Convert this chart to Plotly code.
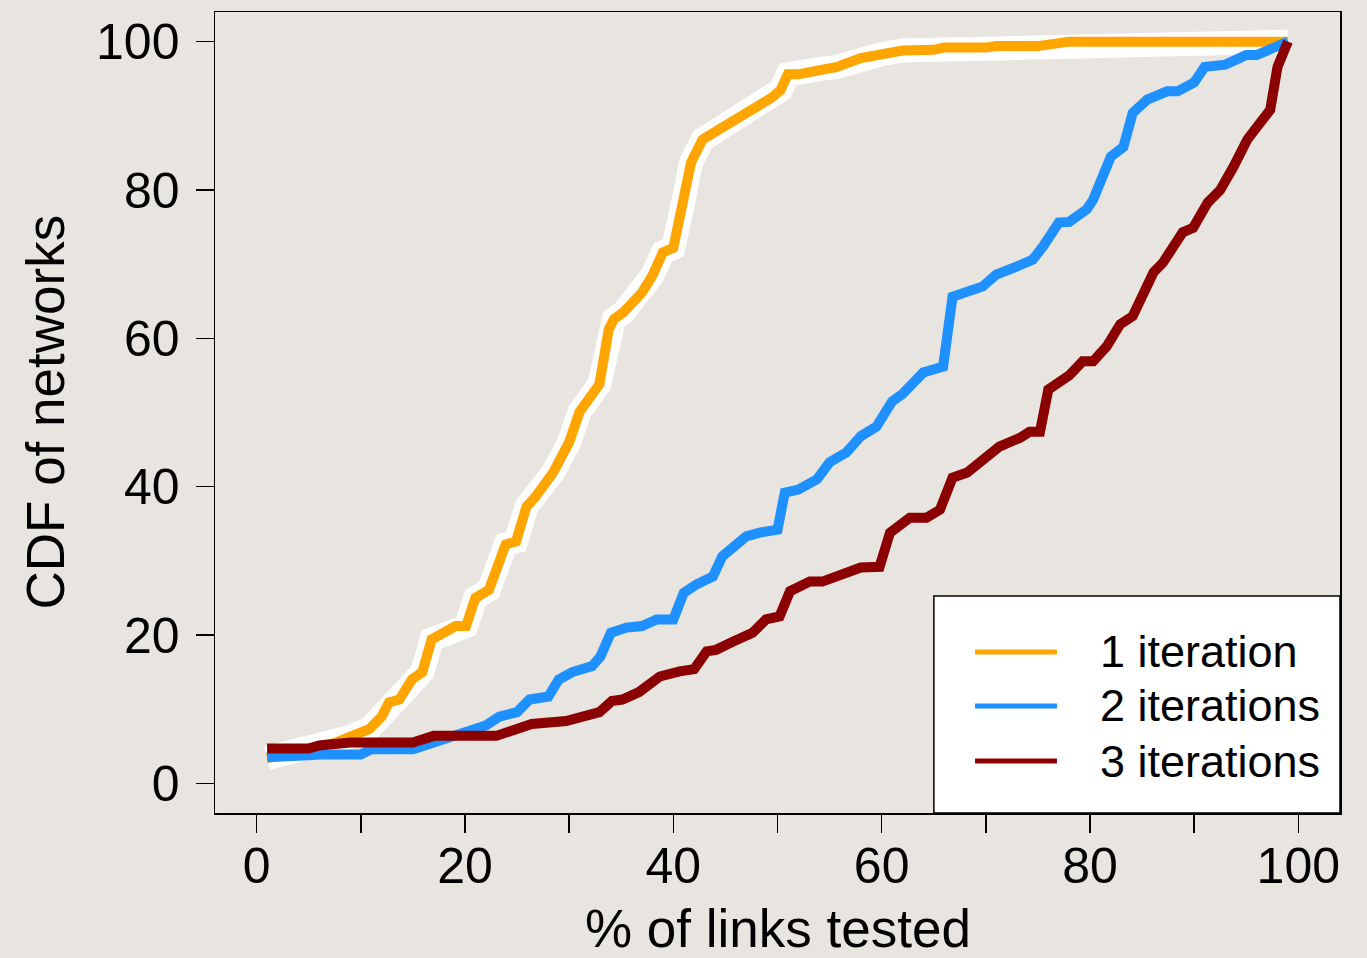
import plotly.graph_objects as go

# ---------------- data ----------------
series_names = ["1 iteration", "2 iterations", "3 iterations"]
series_colors = ["#FFA500", "#1E90FF", "#8B0000"]

x_1iter = [1, 3, 5, 7, 7.6, 8.8, 10.8, 12, 12.7, 13.7, 14.9, 15.9, 16.8, 19.1, 20.1, 21, 22.3,
           23.9, 24.9, 25.9, 26.8, 28.5, 30, 31, 32.9, 33.8, 34.3, 35.2, 37, 38, 39, 40, 41,
           41.7, 42.8, 45.4, 47, 48.5, 49.5, 50.3, 51, 52, 54, 55.7, 58, 60, 62, 65, 66, 70,
           71, 75, 78, 99]
y_1iter = [3.4, 4.0, 4.5, 5.2, 5.5, 6.2, 7.3, 9.0, 10.9, 11.3, 14.0, 15.0, 19.4, 21.2, 21.2,
           25.0, 26.1, 32.2, 32.6, 37.3, 38.7, 42.0, 46.0, 50.1, 53.8, 61.2, 62.6, 63.5, 66.2,
           68.5, 71.6, 72.2, 78.7, 83.7, 86.8, 89.0, 90.2, 91.5, 92.5, 93.5, 95.6, 95.6, 96.3,
           96.6, 97.8, 98.3, 98.8, 98.9, 99.2, 99.2, 99.4, 99.4, 100, 100]

x_2iter = [1, 3, 5, 6, 10, 11, 15, 17, 19, 21, 22, 23.3, 25, 26.2, 28, 29, 30.3, 32.2, 33, 34,
           35.5, 37, 38.4, 40, 41, 42.2, 43.8, 44.7, 47, 48.3, 50, 50.7, 52, 53.8, 55, 56.6,
           58, 59.5, 61, 62, 64, 65.9, 66.8, 69.7, 71, 73, 74.5, 75.5, 77, 78, 79.7, 80.3, 82,
           83.2, 84.1, 85.5, 87.4, 88.4, 90, 91, 93, 95, 96, 99]
y_2iter = [3.5, 3.5, 3.8, 3.9, 3.9, 4.6, 4.6, 5.5, 6.5, 7.3, 7.8, 9.0, 9.6, 11.3, 11.7, 14.0,
           15.0, 15.8, 17.1, 20.3, 21.0, 21.2, 22.1, 22.1, 25.7, 26.8, 27.9, 30.6, 33.3, 33.8,
           34.2, 39.2, 39.6, 41.0, 43.3, 44.6, 46.8, 48.1, 51.5, 52.5, 55.4, 56.2, 65.6, 67.0,
           68.6, 69.7, 70.6, 72.4, 75.6, 75.7, 77.4, 78.7, 84.5, 85.8, 90.4, 92.2, 93.3, 93.3,
           94.5, 96.6, 96.9, 98.2, 98.2, 100]

x_3iter = [1, 5, 6, 8, 9, 15, 17, 23, 24.2, 25.2, 26.4, 29.7, 31.6, 32.9, 34.1, 35.1, 36.7,
           38.7, 40.6, 42, 43.2, 44.1, 45.7, 47.6, 48.9, 50.2, 51.2, 53.1, 54.3, 56.3, 58,
           59.8, 60.8, 62.7, 64.3, 65.6, 66.8, 68.2, 69.4, 71.3, 73.3, 74.2, 75.2, 76, 78,
           79.3, 80.3, 81.6, 82.9, 84.1, 86.1, 87, 88.9, 89.9, 91.3, 92.5, 93.8, 95.1, 96.3,
           97.3, 98, 99]
y_3iter = [4.7, 4.7, 5.1, 5.3, 5.5, 5.5, 6.4, 6.4, 7.0, 7.3, 8.0, 8.4, 9.3, 9.6, 11.1, 11.3,
           12.3, 14.4, 15.1, 15.4, 17.8, 18.0, 19.1, 20.3, 22.1, 22.5, 25.9, 27.2, 27.2, 28.4,
           29.1, 29.2, 33.8, 35.8, 35.8, 36.9, 41.2, 41.9, 43.4, 45.4, 46.6, 47.4, 47.4, 53.1,
           55.0, 56.9, 56.9, 58.9, 61.9, 63.0, 68.9, 70.2, 74.3, 74.9, 78.3, 80.0, 83.2, 86.8,
           89.0, 90.8, 96.6, 100]

x_tick_vals = [0, 10, 20, 30, 40, 50, 60, 70, 80, 90, 100]
x_tick_text = ["0", "", "20", "", "40", "", "60", "", "80", "", "100"]
y_tick_vals = [0, 20, 40, 60, 80, 100]
x_title = "% of links tested"
y_title = "CDF of networks"

# ---------------- figure ----------------
FONT = "Liberation Sans, Arial, Helvetica, sans-serif"
BG = "#E8E5E0"
fig = go.Figure()

# white halo under the 1-iteration curve
fig.add_trace(go.Scatter(x=x_1iter, y=y_1iter, mode="lines",
                         line=dict(color="white", width=24),
                         showlegend=False, hoverinfo="skip"))

for name, xs, ys, col in zip(series_names, [x_1iter, x_2iter, x_3iter],
                             [y_1iter, y_2iter, y_3iter], series_colors):
    fig.add_trace(go.Scatter(x=xs, y=ys, mode="lines", name=name,
                             line=dict(color=col, width=10)))

# manual legend (box, samples, labels) in paper coordinates
lg_x0, lg_x1, lg_y0, lg_y1 = 0.639, 1.0, 0.0, 0.271
shapes = [dict(type="rect", xref="paper", yref="paper", x0=lg_x0, x1=lg_x1, y0=lg_y0, y1=lg_y1,
               fillcolor="white", line=dict(color="black", width=1.5), layer="above")]
annotations = []
row_y = [0.201, 0.1336, 0.0649]
for name, col, ry in zip(series_names, series_colors, row_y):
    shapes.append(dict(type="line", xref="paper", yref="paper", x0=0.6756, x1=0.7484,
                       y0=ry, y1=ry, line=dict(color=col, width=5), layer="above"))
    annotations.append(dict(text=name, xref="paper", yref="paper", x=0.785, y=ry,
                            xanchor="left", yanchor="middle", showarrow=False,
                            font=dict(family=FONT, size=45, color="black")))

# axis titles
annotations.append(dict(text=x_title, xref="paper", yref="paper", x=0.5, y=-0.1436,
                        xanchor="center", yanchor="middle", showarrow=False,
                        font=dict(family=FONT, size=53, color="black")))
annotations.append(dict(text=y_title, xref="paper", yref="paper", x=-0.1511, y=0.5,
                        xanchor="center", yanchor="middle", showarrow=False, textangle=-90,
                        font=dict(family=FONT, size=53, color="black")))

axis_common = dict(range=[-4, 104], ticks="outside", ticklen=18, tickwidth=1.5,
                   tickcolor="black", showline=True, mirror=True, linecolor="black",
                   linewidth=1.5, showgrid=False, zeroline=False, automargin=False,
                   tickfont=dict(family=FONT, size=50, color="black"))

fig.update_layout(
    width=1367, height=958,
    margin=dict(l=215, r=27, t=12, b=145, autoexpand=False),
    paper_bgcolor=BG,
    plot_bgcolor="rgba(0,0,0,0)",
    showlegend=False,
    hovermode=False,
    font=dict(family=FONT, color="black"),
    shapes=shapes,
    annotations=annotations,
    xaxis=dict(tickvals=x_tick_vals, ticktext=x_tick_text, ticklabelstandoff=-10,
               **axis_common),
    yaxis=dict(tickvals=y_tick_vals, ticklabelstandoff=6, **axis_common),
)

fig.write_html(
    "out.html",
    config={"displayModeBar": False, "staticPlot": True},
    post_script="document.body.style.margin='0';document.body.style.overflow='hidden';"
                "document.body.style.background='" + BG + "';",
)
